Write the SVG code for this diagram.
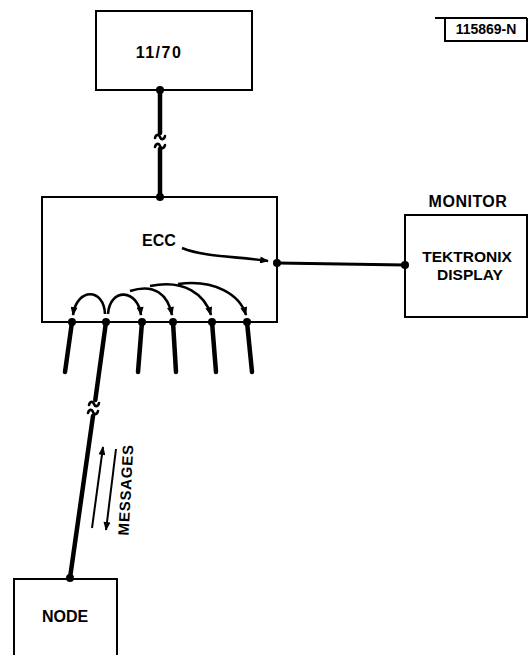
<svg xmlns="http://www.w3.org/2000/svg" width="529" height="655" viewBox="0 0 529 655">
<style>
.t{font-family:"Liberation Sans",Arial,sans-serif;font-weight:bold;font-size:16px;fill:#000;text-anchor:middle}
.box{fill:none;stroke:#000;stroke-width:2}
.thick{stroke:#000;stroke-width:4.5;stroke-linecap:round;fill:none}
.med{stroke:#000;stroke-width:3.2;fill:none}
.arc{stroke:#000;stroke-width:2.6;fill:none;marker-end:url(#ah)}
.thin{stroke:#000;stroke-width:2;fill:none;marker-end:url(#ah)}
.sq{stroke:#000;stroke-width:2.6;fill:none;stroke-linecap:round}
.dot{fill:#000}
</style>
<defs>
<marker id="ah" viewBox="0 0 10 8" refX="9" refY="4" markerWidth="10" markerHeight="7" markerUnits="userSpaceOnUse" orient="auto">
<path d="M0,0 L10,4 L0,8 z" fill="#000"/>
</marker>
</defs>
<rect width="529" height="655" fill="#fff"/>

<g id="label">
<path class="box" d="M435,18 H527 M445,18 V41 H527 V18"/>
<text class="t" x="486" y="34" style="font-size:14px">115869-N</text>
</g>

<g id="n1170">
<rect class="box" x="96" y="11" width="156" height="79"/>
<text class="t" x="159" y="58" letter-spacing="1.5">11/70</text>
</g>

<g id="ecc">
<rect class="box" x="42" y="197" width="235" height="125"/>
<text class="t" x="159" y="246">ECC</text>
</g>

<g id="monitor">
<text class="t" x="468" y="207" letter-spacing="0.5">MONITOR</text>
<rect class="box" x="405" y="215" width="122" height="102"/>
<text class="t" x="467" y="262" style="font-size:15.5px">TEKTRONIX</text>
<text class="t" x="470" y="280" style="font-size:15.5px">DISPLAY</text>
</g>

<g id="node">
<path class="box" d="M14,660 V579 H117 V660"/>
<text class="t" x="65" y="622">NODE</text>
</g>

<g id="connectors">
<!-- 11/70 to ECC -->
<line class="thick" x1="160" y1="90" x2="160" y2="133"/>
<line class="thick" x1="160" y1="149" x2="160" y2="197"/>
<path class="sq" d="M155,138 C156,134 159,134 160,137 C161,140 164,140 165,136 M155,147 C156,143 159,143 160,146 C161,149 164,149 165,145"/>
<circle class="dot" cx="160" cy="90" r="4"/>
<circle class="dot" cx="160" cy="197" r="4"/>

<!-- ECC to monitor -->
<line class="med" x1="277" y1="263" x2="405" y2="265"/>
<circle class="dot" cx="277" cy="263" r="4"/>
<circle class="dot" cx="405" cy="265" r="4"/>
<path class="arc" d="M182,248 C205,257 232,256 268,261"/>

<!-- leads -->
<line class="thick" x1="72" y1="322" x2="65" y2="372"/>
<line class="thick" x1="142" y1="322" x2="138" y2="372"/>
<line class="thick" x1="173" y1="322" x2="176" y2="372"/>
<line class="thick" x1="212" y1="322" x2="216" y2="372"/>
<line class="thick" x1="247" y1="322" x2="252" y2="372"/>
<line class="thick" x1="106" y1="322" x2="95.3" y2="400"/>
<line class="thick" x1="93" y1="416" x2="70" y2="578"/>
<path class="sq" d="M89,405 C90,401 93,401 94,404 C95,407 98,407 99,403 M88,413 C89,409 92,409 93,412 C94,415 97,415 98,411"/>
<circle class="dot" cx="72" cy="322" r="4"/>
<circle class="dot" cx="106" cy="322" r="4"/>
<circle class="dot" cx="142" cy="322" r="4"/>
<circle class="dot" cx="173" cy="322" r="4"/>
<circle class="dot" cx="212" cy="322" r="4"/>
<circle class="dot" cx="247" cy="322" r="4"/>
<circle class="dot" cx="70" cy="578" r="4"/>

<!-- routing arcs -->
<path class="arc" d="M105,314 C104,288 77,287 73,315"/>
<path class="arc" d="M108,314 C110,287 138,289 141,315"/>
<path class="arc" d="M130,291 C155,283 168,295 172,315"/>
<path class="arc" d="M150,286 C185,279 205,295 211,315"/>
<path class="arc" d="M178,284 C215,279 240,295 246,315"/>

<!-- messages -->
<line class="thin" x1="92" y1="528" x2="103" y2="447"/>
<line class="thin" x1="116" y1="449" x2="106" y2="530"/>
</g>
<text class="t" transform="translate(131,490) rotate(-87)" letter-spacing="0.8" style="font-size:15px">MESSAGES</text>
</svg>
